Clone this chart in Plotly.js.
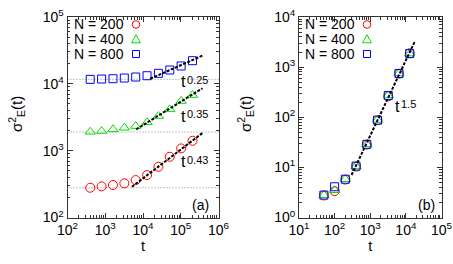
<!DOCTYPE html>
<html>
<head>
<meta charset="utf-8">
<script src="https://cdn.plot.ly/plotly-3.0.1.min.js"></script>
<style>html,body{margin:0;padding:0;background:#fff;}#chart{width:453px;height:264px;}</style>
</head>
<body>
<div id="chart"></div>
<script>
// ---------- data ----------
const seriesNames = ['N = 200', 'N = 400', 'N = 800'];

// panel (a)
const tA = [400, 800, 1600, 3200, 6400, 12800, 25600, 51200, 102400, 204800];
const sA200 = [279, 292, 306, 324, 363, 431, 574, 811, 1081, 1406];
const sA400 = [1918, 1965, 2084, 2202, 2335, 2653, 3298, 4150, 5530, 6790];
const sA800 = [11670, 11800, 11920, 12210, 12640, 13220, 14360, 16110, 18500, 22200];
const plateauA = [279, 1897, 11670];
const fitA200_t = [5080, 376700];  const fitA200_s = [288, 1837];
const fitA400_t = [6600, 376700];  const fitA400_s = [2084, 8590];
const fitA800_t = [15500, 386000]; const fitA800_s = [11920, 26600];
const fitExpA = ['0.43', '0.35', '0.25'];

// panel (b)
const tB = [50, 100, 200, 400, 800, 1600, 3200, 6400, 12800];
const sB200 = [2.75, 3.35, 5.7, 10.4, 28.5, 87, 262, 740, 1890];
const sB400 = [2.78, 3.5, 5.8, 10.6, 28.8, 88, 272, 745, 1862];
const sB800 = [2.8, 4.1, 5.8, 10.6, 28.8, 87.5, 271, 745, 1860];
const fitB_t = [299, 17700]; const fitB_s = [7.05, 3220];
const fitExpB = '1.5';

const tickA_x = [2, 3, 4, 5, 6];
const tickA_y = [2, 3, 4, 5];
const tickB_x = [1, 2, 3, 4, 5];
const tickB_y = [0, 1, 2, 3, 4];

// ---------- styling ----------
const W = 453, H = 264;
const PX = x => x / W, PY = y => 1 - y / H;
const FONT = 'Liberation Sans, Arial, Helvetica, sans-serif';
const colors = ['#ff0000', '#00dd00', '#0000ff'];
const symbols = ['circle-open', 'triangle-up-open', 'square-open'];
const sizes = [9, 9, 8];
const frame = '#333333';

function pw(list) { return list.map(p => Math.pow(10, p)); }
function pt(list) { return list.map(p => '10<sup>' + p + '</sup>'); }

function axis(domain, range, ticks, anchor, titleText) {
  return {
    type: 'log', domain: domain, range: range, anchor: anchor,
    tickmode: 'array', tickvals: pw(ticks), ticktext: pt(ticks),
    ticks: 'inside', ticklen: 5, tickwidth: 1, tickcolor: frame,
    minor: {ticks: 'inside', ticklen: 2.5, tickcolor: frame, tick0: 0, dtick: 'D1', showgrid: false},
    showline: true, linecolor: frame, linewidth: 1, mirror: 'ticks',
    showgrid: false, zeroline: false,
    tickfont: {family: FONT, size: 14, color: '#000'},
    title: {text: titleText, font: {family: FONT, size: 14.5, color: '#000'}, standoff: 2}
  };
}

const xDomA = [PX(67.5), PX(218.5)], xDomB = [PX(299), PX(441.5)];
const yDom = [PY(217.5), PY(17)];

const traces = [];
const seriesA = [sA200, sA400, sA800];
const seriesB = [sB200, sB400, sB800];
for (let i = 0; i < 3; i++) {
  traces.push({x: tA, y: seriesA[i], xaxis: 'x', yaxis: 'y', mode: 'markers', name: seriesNames[i],
    showlegend: false, marker: {symbol: symbols[i], size: sizes[i], color: colors[i], line: {width: 1, color: colors[i]}}});
}
for (let i = 0; i < 3; i++) {
  traces.push({x: tB, y: seriesB[i], xaxis: 'x2', yaxis: 'y2', mode: 'markers', name: seriesNames[i],
    showlegend: false, marker: {symbol: symbols[i], size: sizes[i], color: colors[i], line: {width: 1, color: colors[i]}}});
}
const fitLine = {color: '#000', width: 2, dash: '3px,1.5px'};
[[fitA200_t, fitA200_s], [fitA400_t, fitA400_s], [fitA800_t, fitA800_s]].forEach(f => {
  traces.push({x: f[0], y: f[1], xaxis: 'x', yaxis: 'y', mode: 'lines', showlegend: false, line: fitLine});
});
traces.push({x: fitB_t, y: fitB_s, xaxis: 'x2', yaxis: 'y2', mode: 'lines', showlegend: false, line: fitLine});

const shapes = plateauA.map(v => ({type: 'line', xref: 'x domain', yref: 'y', x0: 0, x1: 1, y0: v, y1: v,
  line: {color: '#8c8c8c', width: 1, dash: '1px,2px'}, layer: 'below'}));

// legend glyphs (drawn as pixel-sized shapes anchored in paper space)
function legendMarks(cx, rows) {
  const out = [];
  out.push({type: 'circle', xref: 'paper', yref: 'paper', xsizemode: 'pixel', ysizemode: 'pixel',
    xanchor: PX(cx), yanchor: PY(rows[0]), x0: -3.8, x1: 3.8, y0: -3.8, y1: 3.8, line: {color: colors[0], width: 1}});
  out.push({type: 'path', xref: 'paper', yref: 'paper', xsizemode: 'pixel', ysizemode: 'pixel',
    xanchor: PX(cx), yanchor: PY(rows[1]), path: 'M -4.5 -3.5 L 4.5 -3.5 L 0 4.5 Z', line: {color: colors[1], width: 1}});
  out.push({type: 'rect', xref: 'paper', yref: 'paper', xsizemode: 'pixel', ysizemode: 'pixel',
    xanchor: PX(cx), yanchor: PY(rows[2]), x0: -3.5, x1: 3.5, y0: -3.5, y1: 3.5, line: {color: colors[2], width: 1}});
  return out;
}
const legRows = [24.5, 39.3, 54];
shapes.push(...legendMarks(136, legRows));
shapes.push(...legendMarks(367, legRows));

const annotations = [];
function txt(text, x, y, xanchor, size, angle) {
  annotations.push({text: text, xref: 'paper', yref: 'paper', x: PX(x), y: PY(y), xanchor: xanchor || 'left',
    yanchor: 'middle', showarrow: false, textangle: angle || 0,
    font: {family: FONT, size: size || 14, color: '#000'}});
}
function powLabel(e, x, y) {   // x: left of "t", y: centre of "t"
  txt('t', x, y + 1, 'left', 16);
  txt(e, x + 6, y - 1, 'left', 11);
}
seriesNames.forEach((n, i) => { txt(n, 72, legRows[i], 'left', 14); txt(n, 303, legRows[i], 'left', 14); });
powLabel(fitExpA[0], 178.5, 160.5);
powLabel(fitExpA[1], 178.5, 115);
powLabel(fitExpA[2], 178.5, 81);
powLabel(fitExpB, 392.5, 105);
txt('(a)', 200, 205, 'center');
txt('(b)', 426, 205, 'center');

const ytitle = 'σ<sup>2</sup><sub>E</sub>(t)';
txt(ytitle, 16, 114, 'center', 15, -90);
txt(ytitle, 245, 114, 'center', 15, -90);

const layout = {
  width: W, height: H, margin: {l: 0, r: 0, t: 0, b: 0},
  paper_bgcolor: '#fff', plot_bgcolor: '#fff', showlegend: false,
  font: {family: FONT, size: 14, color: '#000'},
  xaxis: axis(xDomA, [2, 6], tickA_x, 'y', 't'),
  yaxis: axis(yDom, [2, 5], tickA_y, 'x', ''),
  xaxis2: axis(xDomB, [1, 5], tickB_x, 'y2', 't'),
  yaxis2: axis(yDom, [0, 4], tickB_y, 'x2', ''),
  shapes: shapes, annotations: annotations
};

Plotly.newPlot('chart', traces, layout, {staticPlot: true, displayModeBar: false});
</script>
</body>
</html>
